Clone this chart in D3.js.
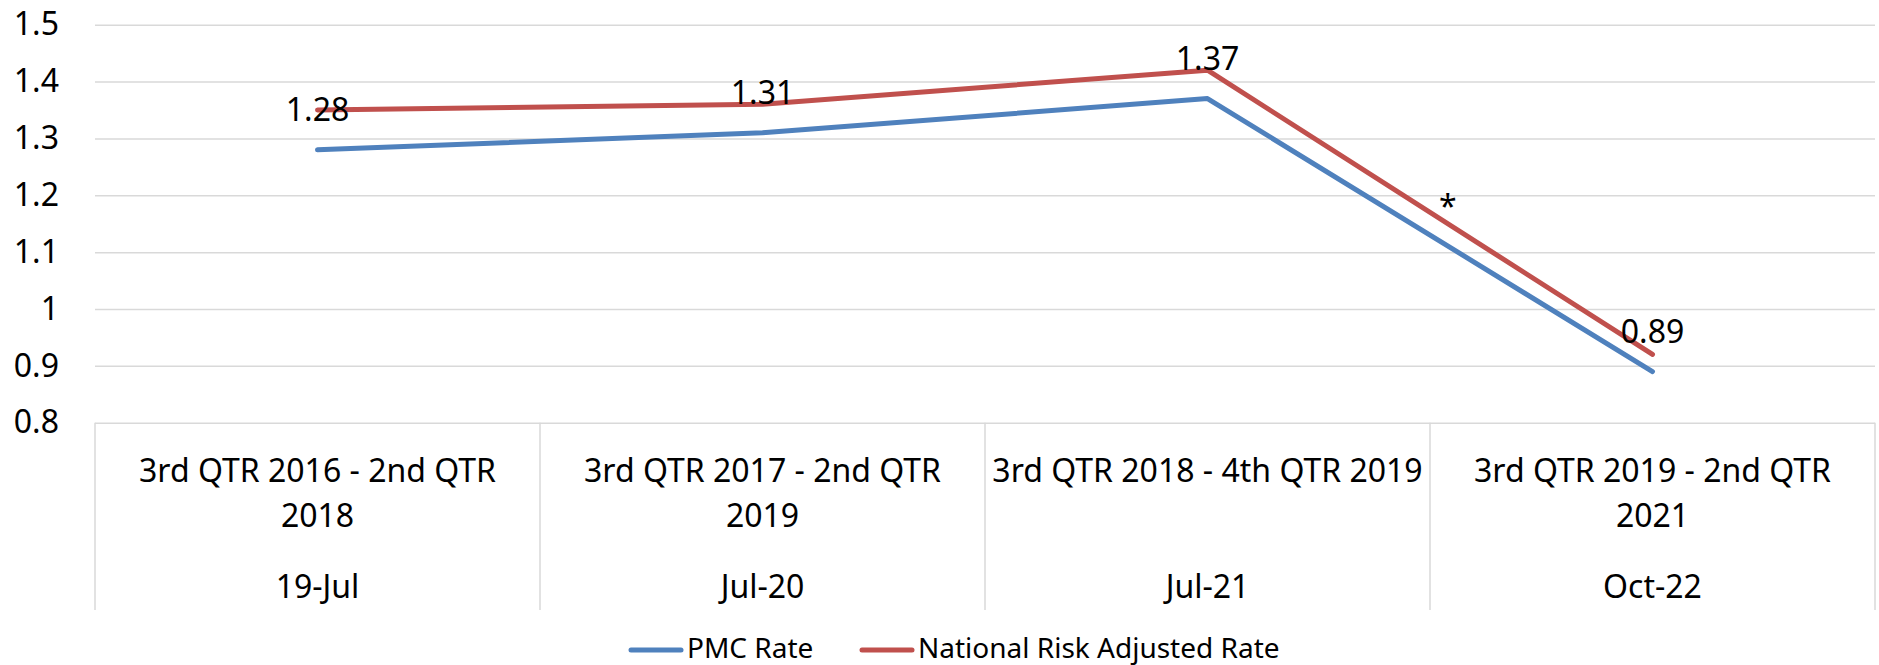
<!DOCTYPE html>
<html>
<head>
<meta charset="utf-8">
<script src="https://cdn.jsdelivr.net/npm/d3@7"></script>
<style>
  body { margin: 0; background: #fff; }
  svg text { font-family: "Noto Sans", sans-serif; fill: #000; }
</style>
</head>
<body>
<svg id="chart"></svg>
<script>
// Category labels (two levels)
const periods = [
    ['3rd QTR 2016 - 2nd QTR', '2018'],
    ['3rd QTR 2017 - 2nd QTR', '2019'],
    ['3rd QTR 2018 - 4th QTR 2019'],
    ['3rd QTR 2019 - 2nd QTR', '2021']
];
const reportDates = ['19-Jul', 'Jul-20', 'Jul-21', 'Oct-22'];
const pmcRate = [1.28, 1.31, 1.37, 0.89];
const nationalRate = [1.35, 1.36, 1.42, 0.92];
const yTicks = [0.8, 0.9, 1.0, 1.1, 1.2, 1.3, 1.4, 1.5];
// the "*" note sits between Jul-21 and Oct-22
const noteText = '*';
const noteValue = 1.16;

const colors = { pmc: '#4F81BD', national: '#C0504D' };

const W = 1879, H = 665;
const margin = { top: 24.7, right: 4, left: 95 };
const plotBottom = 422.7;

const svg = d3.select('#chart')
    .attr('width', W)
    .attr('height', H);

// scales
const xScale = d3.scaleBand()
    .domain(reportDates)
    .range([margin.left, W - margin.right]);
const xMid = d => xScale(d) + xScale.bandwidth() / 2;

const yScale = d3.scaleLinear()
    .domain([0.8, 1.5])
    .range([plotBottom, margin.top]);

// gridlines + y labels
const yAxis = d3.axisLeft(yScale)
    .tickValues(yTicks)
    .tickSize(-(W - margin.right - margin.left))
    .tickPadding(36)
    .tickFormat(d => String(+d.toFixed(1)));

const yg = svg.append('g')
    .attr('transform', `translate(${margin.left},0)`)
    .call(yAxis);
yg.select('.domain').remove();
yg.selectAll('.tick line').attr('stroke', '#d9d9d9').attr('stroke-width', 1.5);
yg.selectAll('.tick text')
    .attr('font-size', 32)
    .style('font-family', '"Noto Sans", sans-serif')
    .attr('fill', '#000');

// category box below the plot
const boxBottom = 610;
const bounds = reportDates.map(d => xScale(d)).concat([W - margin.right]);
svg.append('g').selectAll('line')
    .data(bounds)
    .join('line')
    .attr('x1', d => d).attr('x2', d => d)
    .attr('y1', plotBottom).attr('y2', boxBottom)
    .attr('stroke', '#d9d9d9')
    .attr('stroke-width', 1.5);

const catG = svg.append('g');
periods.forEach((lines, i) => {
    const t = catG.append('text')
        .attr('x', xMid(reportDates[i]))
        .attr('y', 482)
        .attr('text-anchor', 'middle')
        .attr('font-size', 32);
    lines.forEach((ln, j) => {
        t.append('tspan')
            .attr('x', xMid(reportDates[i]))
            .attr('dy', j === 0 ? 0 : 45)
            .text(ln);
    });
});
catG.selectAll('.date')
    .data(reportDates)
    .join('text')
    .attr('class', 'date')
    .attr('x', d => xMid(d))
    .attr('y', 598)
    .attr('text-anchor', 'middle')
    .attr('font-size', 32)
    .text(d => d);

// lines
const line = d3.line()
    .x((d, i) => xMid(reportDates[i]))
    .y(d => yScale(d));

svg.append('path')
    .datum(pmcRate)
    .attr('d', line)
    .attr('fill', 'none')
    .attr('stroke', colors.pmc)
    .attr('stroke-width', 5)
    .attr('stroke-linecap', 'round')
    .attr('stroke-linejoin', 'round');

svg.append('path')
    .datum(nationalRate)
    .attr('d', line)
    .attr('fill', 'none')
    .attr('stroke', colors.national)
    .attr('stroke-width', 5)
    .attr('stroke-linecap', 'round')
    .attr('stroke-linejoin', 'round');

// data labels for PMC rate, above the points
svg.append('g').selectAll('text')
    .data(pmcRate)
    .join('text')
    .attr('x', (d, i) => xMid(reportDates[i]))
    .attr('y', d => yScale(d) - 29)
    .attr('text-anchor', 'middle')
    .attr('font-size', 32)
    .text(d => d.toFixed(2));

// asterisk note
svg.append('text')
    .attr('x', xMid(reportDates[2]) + 0.54 * (xMid(reportDates[3]) - xMid(reportDates[2])))
    .attr('y', yScale(noteValue))
    .attr('text-anchor', 'middle')
    .attr('font-size', 32)
    .text(noteText);

// legend
const legend = [
    { name: 'PMC Rate', color: colors.pmc, x: 631 },
    { name: 'National Risk Adjusted Rate', color: colors.national, x: 862 }
];
const lg = svg.append('g').selectAll('g')
    .data(legend)
    .join('g')
    .attr('transform', d => `translate(${d.x},650)`);
lg.append('line')
    .attr('x1', 0).attr('x2', 50)
    .attr('stroke', d => d.color)
    .attr('stroke-width', 5)
    .attr('stroke-linecap', 'round');
lg.append('text')
    .attr('x', 56)
    .attr('y', 8)
    .attr('font-size', 28)
    .text(d => d.name);
</script>
</body>
</html>
